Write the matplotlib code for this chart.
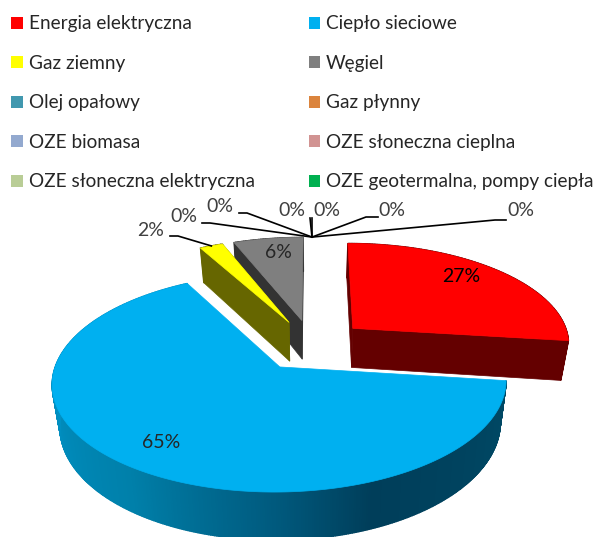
import numpy as np
import matplotlib
matplotlib.use('Agg')
import matplotlib.pyplot as plt
from matplotlib.patches import Patch, Polygon

plt.rcParams['font.family'] = ['Lato', 'DejaVu Sans']

# ===============================
# DATA
# ===============================
categories = ['Energia elektryczna', 'Ciepło sieciowe', 'Gaz ziemny', 'Węgiel',
              'Olej opałowy', 'Gaz płynny', 'OZE biomasa', 'OZE słoneczna cieplna',
              'OZE słoneczna elektryczna', 'OZE geotermalna, pompy ciepła']
values = [27, 65, 2, 6, 0, 0, 0, 0, 0, 0]
colors = ['#FF0000', '#00B0F0', '#FFFF00', '#7F7F7F', '#4198AF',
          '#DB843D', '#93A9CF', '#D19392', '#B9CD96', '#00B050']
wall_colors = ['#640000', None, '#666600', '#333333']

# shading of the blue side wall, by angle round the pie
shade_angles = [97, 158, 180, 215, 270, 331]
shade_rgb = [(0, 74, 102), (0, 62, 90), (0, 90, 126), (0, 128, 170), (0, 146, 198), (0, 146, 198)]

# ===============================
# PSEUDO 3D PROJECTION
# ===============================
CX, CY = 312, 345
RX, RY = 218, 101
PERSP = 0.139
EXPLODE = 0.255
DEPTH = 40
BOTTOM_SHRINK = 0.97


def project(x, y, bottom=False):
    s = 1 / (1 + PERSP * y)
    if bottom:
        return CX + RX * x * s * BOTTOM_SHRINK, CY - RY * y * s + DEPTH * s
    return CX + RX * x * s, CY - RY * y * s


def rim_wall_color(a):
    return tuple(np.interp(a, shade_angles, [c[i] for c in shade_rgb]) / 255 for i in range(3))


def draw_slice(ax, start, end, color, wall):
    mid = np.radians((start + end) / 2)
    ox, oy = EXPLODE * np.sin(mid), EXPLODE * np.cos(mid)
    angs = np.linspace(start, end, max(int(end - start) * 2, 4))
    rad = np.radians(angs)
    xs = ox + np.sin(rad)
    ys = oy + np.cos(rad)

    # side walls first, the top covers what should be hidden
    for i in range(len(angs) - 1):
        quad = [project(xs[i], ys[i]), project(xs[i + 1], ys[i + 1]),
                project(xs[i + 1], ys[i + 1], True), project(xs[i], ys[i], True)]
        c = wall if wall else rim_wall_color(angs[i])
        ax.add_patch(Polygon(quad, closed=True, fc=c, ec=c, lw=1.0))

    # cut faces, the big blue slice never shows them
    if wall:
        for k in (-1, 0):
            quad = [project(ox, oy), project(xs[k], ys[k]),
                    project(xs[k], ys[k], True), project(ox, oy, True)]
            ax.add_patch(Polygon(quad, closed=True, fc=wall, ec=wall, lw=0.5))

    top = [project(ox, oy)] + [project(a, b) for a, b in zip(xs, ys)]
    ax.add_patch(Polygon(top, closed=True, fc=color, ec=color, lw=0.5))


def main():
    fig = plt.figure(figsize=(6.0, 5.37), dpi=100)
    ax = fig.add_axes([0, 0, 1, 1])
    ax.set_xlim(0, 600)
    ax.set_ylim(537, 0)
    ax.axis('off')

    total = sum(values)
    slices = []
    a = 0
    for i, v in enumerate(values):
        da = 360 * v / total
        if v > 0:
            slices.append((i, a, a + da))
        a += da

    # back to front
    slices.sort(key=lambda s: -np.cos(np.radians((s[1] + s[2]) / 2)))
    for i, s, e in slices:
        draw_slice(ax, s, e, colors[i], wall_colors[i])

    # leader lines
    apex = project(0, 1 + EXPLODE)
    mid_y = np.radians(334.8)
    yellow_rim = project(EXPLODE * np.sin(mid_y) + np.sin(mid_y),
                         EXPLODE * np.cos(mid_y) + np.cos(mid_y))
    ax.plot([170, 178, yellow_rim[0]], [236, 236, yellow_rim[1]], color='black', lw=1.2)
    ax.text(151, 230, '2%', ha='center', va='center', fontsize=14, color='#404040')

    zero_labels = [(184, 217, [(202, 223), (210, 223)]),
                   (220, 206, [(239, 213), (247, 213)]),
                   (292, 211, [(310, 218)]),
                   (327, 211, [(312, 218)]),
                   (392, 211, [(378, 217), (366, 217)]),
                   (521, 211, [(506, 220), (495, 220)])]
    for tx, ty, pts in zero_labels:
        px = [p[0] for p in pts] + [apex[0]]
        py = [p[1] for p in pts] + [apex[1]]
        ax.plot(px, py, color='black', lw=1.2)
        ax.text(tx, ty, '0%', ha='center', va='center', fontsize=14, color='#404040')

    ax.text(461, 277, '27%', ha='center', va='center', fontsize=14, color='black')
    ax.text(278, 252, '6%', ha='center', va='center', fontsize=14, color='#262626')
    ax.text(161, 443, '65%', ha='center', va='center', fontsize=14, color='#262626')

    # legend, filled column first so order it to read across
    handles = [Patch(fc=c, ec='none') for c in colors]
    order = [0, 2, 4, 6, 8, 1, 3, 5, 7, 9]
    ax.legend([handles[i] for i in order], [categories[i] for i in order],
              ncol=2, loc='upper left', bbox_to_anchor=(0.0, 0.9925), frameon=False,
              fontsize=13.7, labelcolor='#262626', handlelength=0.6, handleheight=0.6,
              handletextpad=0.3, labelspacing=1.18, columnspacing=2.85,
              borderaxespad=0.3, borderpad=0.3)

    fig.savefig('out.png', dpi=100)


if __name__ == "__main__":
    main()
